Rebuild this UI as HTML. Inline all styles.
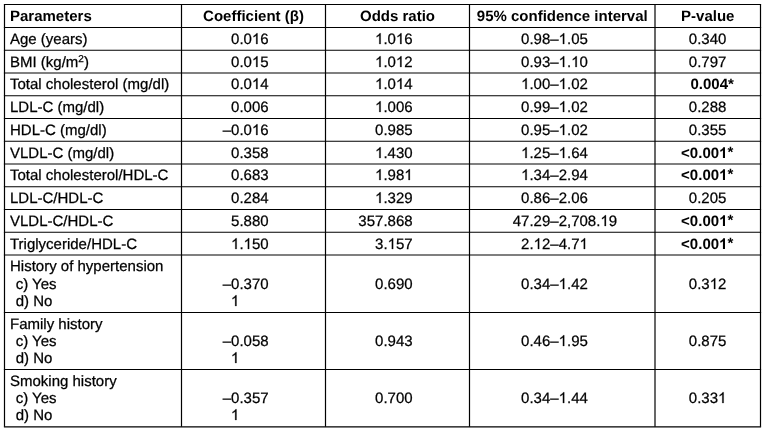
<!DOCTYPE html><html><head><meta charset="utf-8"><style>html,body{margin:0;padding:0;background:#fff;width:764px;height:429px;overflow:hidden}svg{display:block;will-change:transform}text{font-family:"Liberation Sans",sans-serif;font-size:15px;fill:#000;stroke:#000;stroke-width:0.25px;text-rendering:geometricPrecision}.b{font-weight:bold;stroke-width:0}.h{fill:transparent;stroke:transparent}</style></head><body>
<svg width="764" height="429" viewBox="0 0 764 429">
<rect width="764" height="429" fill="#fff"/>
<line x1="3.9" x2="761.1" y1="4.5" y2="4.5" stroke="#000" stroke-width="1.2"/>
<line x1="3.9" x2="761.1" y1="27.5" y2="27.5" stroke="#000" stroke-width="1.2"/>
<line x1="3.9" x2="761.1" y1="50.25" y2="50.25" stroke="#000" stroke-width="1.2"/>
<line x1="3.9" x2="761.1" y1="73" y2="73" stroke="#000" stroke-width="1.2"/>
<line x1="3.9" x2="761.1" y1="95.75" y2="95.75" stroke="#000" stroke-width="1.2"/>
<line x1="3.9" x2="761.1" y1="118.5" y2="118.5" stroke="#000" stroke-width="1.2"/>
<line x1="3.9" x2="761.1" y1="141.25" y2="141.25" stroke="#000" stroke-width="1.2"/>
<line x1="3.9" x2="761.1" y1="164" y2="164" stroke="#000" stroke-width="1.2"/>
<line x1="3.9" x2="761.1" y1="186.75" y2="186.75" stroke="#000" stroke-width="1.2"/>
<line x1="3.9" x2="761.1" y1="209.5" y2="209.5" stroke="#000" stroke-width="1.2"/>
<line x1="3.9" x2="761.1" y1="232.25" y2="232.25" stroke="#000" stroke-width="1.2"/>
<line x1="3.9" x2="761.1" y1="255" y2="255" stroke="#000" stroke-width="1.2"/>
<line x1="3.9" x2="761.1" y1="312.5" y2="312.5" stroke="#000" stroke-width="1.2"/>
<line x1="3.9" x2="761.1" y1="369.5" y2="369.5" stroke="#000" stroke-width="1.2"/>
<line x1="3.9" x2="761.1" y1="426.85" y2="426.85" stroke="#000" stroke-width="1.2"/>
<line x1="4.5" x2="4.5" y1="4.5" y2="426.85" stroke="#000" stroke-width="1.2"/>
<line x1="181.5" x2="181.5" y1="4.5" y2="426.85" stroke="#000" stroke-width="1.2"/>
<line x1="325.5" x2="325.5" y1="4.5" y2="426.85" stroke="#000" stroke-width="1.2"/>
<line x1="469.5" x2="469.5" y1="4.5" y2="426.85" stroke="#000" stroke-width="1.2"/>
<line x1="655" x2="655" y1="4.5" y2="426.85" stroke="#000" stroke-width="1.2"/>
<line x1="760.5" x2="760.5" y1="4.5" y2="426.85" stroke="#000" stroke-width="1.2"/>
<text x="10.00" y="21" class="b">Parameters</text>
<text x="253.50" y="21" text-anchor="middle" class="b">Coefficient (β)</text>
<text x="397.50" y="21" text-anchor="middle" class="b">Odds ratio</text>
<text x="562.25" y="21" text-anchor="middle" class="b">95% confidence interval</text>
<text x="707.75" y="21" text-anchor="middle" class="b">P-value</text>
<text x="10.00" y="44">Age (years)</text>
<text x="268.60" y="44" text-anchor="end">0.0<tspan class="h">1</tspan>6</text>
<text x="412.60" y="44" text-anchor="end"><tspan class="h">1</tspan>.0<tspan class="h">1</tspan>6</text>
<text x="550.30" y="44" text-anchor="end">0.98</text>
<text x="550.30" y="44">–<tspan class="h">1</tspan>.05</text>
<text x="707.60" y="44" text-anchor="middle">0.340</text>
<text x="10.00" y="67">BMI (kg/m<tspan baseline-shift='super' font-size='10'>2</tspan>)</text>
<text x="268.60" y="67" text-anchor="end">0.0<tspan class="h">1</tspan>5</text>
<text x="412.60" y="67" text-anchor="end"><tspan class="h">1</tspan>.0<tspan class="h">1</tspan>2</text>
<text x="550.30" y="67" text-anchor="end">0.93</text>
<text x="550.30" y="67">–<tspan class="h">1</tspan>.<tspan class="h">1</tspan>0</text>
<text x="707.60" y="67" text-anchor="middle">0.797</text>
<text x="10.00" y="89">Total cholesterol (mg/dl)</text>
<text x="268.60" y="89" text-anchor="end">0.0<tspan class="h">1</tspan>4</text>
<text x="412.60" y="89" text-anchor="end"><tspan class="h">1</tspan>.0<tspan class="h">1</tspan>4</text>
<text x="550.30" y="89" text-anchor="end"><tspan class="h">1</tspan>.00</text>
<text x="550.30" y="89">–<tspan class="h">1</tspan>.02</text>
<text x="712.20" y="89" text-anchor="middle" class="b">0.004*</text>
<text x="10.00" y="112">LDL-C (mg/dl)</text>
<text x="268.60" y="112" text-anchor="end">0.006</text>
<text x="412.60" y="112" text-anchor="end"><tspan class="h">1</tspan>.006</text>
<text x="550.30" y="112" text-anchor="end">0.99</text>
<text x="550.30" y="112">–<tspan class="h">1</tspan>.02</text>
<text x="707.60" y="112" text-anchor="middle">0.288</text>
<text x="10.00" y="135">HDL-C (mg/dl)</text>
<text x="268.60" y="135" text-anchor="end">–0.0<tspan class="h">1</tspan>6</text>
<text x="412.60" y="135" text-anchor="end">0.985</text>
<text x="550.30" y="135" text-anchor="end">0.95</text>
<text x="550.30" y="135">–<tspan class="h">1</tspan>.02</text>
<text x="707.60" y="135" text-anchor="middle">0.355</text>
<text x="10.00" y="158">VLDL-C (mg/dl)</text>
<text x="268.60" y="158" text-anchor="end">0.358</text>
<text x="412.60" y="158" text-anchor="end"><tspan class="h">1</tspan>.430</text>
<text x="550.30" y="158" text-anchor="end"><tspan class="h">1</tspan>.25</text>
<text x="550.30" y="158">–<tspan class="h">1</tspan>.64</text>
<text x="707.20" y="158" text-anchor="middle" class="b">&lt;0.00<tspan class="h">1</tspan><tspan dy="-1">*</tspan></text>
<text x="10.00" y="180">Total cholesterol/HDL-C</text>
<text x="268.60" y="180" text-anchor="end">0.683</text>
<text x="412.60" y="180" text-anchor="end"><tspan class="h">1</tspan>.98<tspan class="h">1</tspan></text>
<text x="550.30" y="180" text-anchor="end"><tspan class="h">1</tspan>.34</text>
<text x="550.30" y="180">–2.94</text>
<text x="707.20" y="180" text-anchor="middle" class="b">&lt;0.00<tspan class="h">1</tspan><tspan dy="-1">*</tspan></text>
<text x="10.00" y="203">LDL-C/HDL-C</text>
<text x="268.60" y="203" text-anchor="end">0.284</text>
<text x="412.60" y="203" text-anchor="end"><tspan class="h">1</tspan>.329</text>
<text x="550.30" y="203" text-anchor="end">0.86</text>
<text x="550.30" y="203">–2.06</text>
<text x="707.60" y="203" text-anchor="middle">0.205</text>
<text x="10.00" y="226">VLDL-C/HDL-C</text>
<text x="268.60" y="226" text-anchor="end">5.880</text>
<text x="412.60" y="226" text-anchor="end">357.868</text>
<text x="550.30" y="226" text-anchor="end">47.29</text>
<text x="550.30" y="226">–2,708.<tspan class="h">1</tspan>9</text>
<text x="707.20" y="226" text-anchor="middle" class="b">&lt;0.00<tspan class="h">1</tspan><tspan dy="-1">*</tspan></text>
<text x="10.00" y="249">Triglyceride/HDL-C</text>
<text x="268.60" y="249" text-anchor="end"><tspan class="h">1</tspan>.<tspan class="h">1</tspan>50</text>
<text x="412.60" y="249" text-anchor="end">3.<tspan class="h">1</tspan>57</text>
<text x="550.30" y="249" text-anchor="end">2.<tspan class="h">1</tspan>2</text>
<text x="550.30" y="249">–4.7<tspan class="h">1</tspan></text>
<text x="707.20" y="249" text-anchor="middle" class="b">&lt;0.00<tspan class="h">1</tspan><tspan dy="-1">*</tspan></text>
<text x="10.00" y="271">History of hypertension</text>
<text x="15.70" y="289">c) Yes</text>
<text x="15.70" y="306">d) No</text>
<text x="268.60" y="289" text-anchor="end">–0.370</text>
<text x="230.90" y="306"><tspan class="h">1</tspan></text>
<text x="412.60" y="289" text-anchor="end">0.690</text>
<text x="550.30" y="289" text-anchor="end">0.34</text>
<text x="550.30" y="289">–<tspan class="h">1</tspan>.42</text>
<text x="707.60" y="289" text-anchor="middle">0.3<tspan class="h">1</tspan>2</text>
<text x="10.00" y="329">Family history</text>
<text x="15.70" y="346">c) Yes</text>
<text x="15.70" y="363">d) No</text>
<text x="268.60" y="346" text-anchor="end">–0.058</text>
<text x="230.90" y="363"><tspan class="h">1</tspan></text>
<text x="412.60" y="346" text-anchor="end">0.943</text>
<text x="550.30" y="346" text-anchor="end">0.46</text>
<text x="550.30" y="346">–<tspan class="h">1</tspan>.95</text>
<text x="707.60" y="346" text-anchor="middle">0.875</text>
<text x="10.00" y="386">Smoking history</text>
<text x="15.70" y="403">c) Yes</text>
<text x="15.70" y="420">d) No</text>
<text x="268.60" y="403" text-anchor="end">–0.357</text>
<text x="230.90" y="420"><tspan class="h">1</tspan></text>
<text x="412.60" y="403" text-anchor="end">0.700</text>
<text x="550.30" y="403" text-anchor="end">0.34</text>
<text x="550.30" y="403">–<tspan class="h">1</tspan>.44</text>
<text x="707.60" y="403" text-anchor="middle">0.33<tspan class="h">1</tspan></text>
<path d="M763 0H583V1147Q480 1050 223 930V1104Q520 1250 647 1472H763Z" transform="translate(251.91,44.00) scale(0.007324,-0.007324)" stroke="#000" stroke-width="34.1"/>
<path d="M763 0H583V1147Q480 1050 223 930V1104Q520 1250 647 1472H763Z" transform="translate(375.05,44.00) scale(0.007324,-0.007324)" stroke="#000" stroke-width="34.1"/>
<path d="M763 0H583V1147Q480 1050 223 930V1104Q520 1250 647 1472H763Z" transform="translate(395.91,44.00) scale(0.007324,-0.007324)" stroke="#000" stroke-width="34.1"/>
<path d="M763 0H583V1147Q480 1050 223 930V1104Q520 1250 647 1472H763Z" transform="translate(558.64,44.00) scale(0.007324,-0.007324)" stroke="#000" stroke-width="34.1"/>
<path d="M763 0H583V1147Q480 1050 223 930V1104Q520 1250 647 1472H763Z" transform="translate(251.91,67.00) scale(0.007324,-0.007324)" stroke="#000" stroke-width="34.1"/>
<path d="M763 0H583V1147Q480 1050 223 930V1104Q520 1250 647 1472H763Z" transform="translate(375.05,67.00) scale(0.007324,-0.007324)" stroke="#000" stroke-width="34.1"/>
<path d="M763 0H583V1147Q480 1050 223 930V1104Q520 1250 647 1472H763Z" transform="translate(395.91,67.00) scale(0.007324,-0.007324)" stroke="#000" stroke-width="34.1"/>
<path d="M763 0H583V1147Q480 1050 223 930V1104Q520 1250 647 1472H763Z" transform="translate(558.64,67.00) scale(0.007324,-0.007324)" stroke="#000" stroke-width="34.1"/>
<path d="M763 0H583V1147Q480 1050 223 930V1104Q520 1250 647 1472H763Z" transform="translate(571.16,67.00) scale(0.007324,-0.007324)" stroke="#000" stroke-width="34.1"/>
<path d="M763 0H583V1147Q480 1050 223 930V1104Q520 1250 647 1472H763Z" transform="translate(251.91,89.00) scale(0.007324,-0.007324)" stroke="#000" stroke-width="34.1"/>
<path d="M763 0H583V1147Q480 1050 223 930V1104Q520 1250 647 1472H763Z" transform="translate(375.05,89.00) scale(0.007324,-0.007324)" stroke="#000" stroke-width="34.1"/>
<path d="M763 0H583V1147Q480 1050 223 930V1104Q520 1250 647 1472H763Z" transform="translate(395.91,89.00) scale(0.007324,-0.007324)" stroke="#000" stroke-width="34.1"/>
<path d="M763 0H583V1147Q480 1050 223 930V1104Q520 1250 647 1472H763Z" transform="translate(521.10,89.00) scale(0.007324,-0.007324)" stroke="#000" stroke-width="34.1"/>
<path d="M763 0H583V1147Q480 1050 223 930V1104Q520 1250 647 1472H763Z" transform="translate(558.64,89.00) scale(0.007324,-0.007324)" stroke="#000" stroke-width="34.1"/>
<path d="M763 0H583V1147Q480 1050 223 930V1104Q520 1250 647 1472H763Z" transform="translate(375.05,112.00) scale(0.007324,-0.007324)" stroke="#000" stroke-width="34.1"/>
<path d="M763 0H583V1147Q480 1050 223 930V1104Q520 1250 647 1472H763Z" transform="translate(558.64,112.00) scale(0.007324,-0.007324)" stroke="#000" stroke-width="34.1"/>
<path d="M763 0H583V1147Q480 1050 223 930V1104Q520 1250 647 1472H763Z" transform="translate(251.91,135.00) scale(0.007324,-0.007324)" stroke="#000" stroke-width="34.1"/>
<path d="M763 0H583V1147Q480 1050 223 930V1104Q520 1250 647 1472H763Z" transform="translate(558.64,135.00) scale(0.007324,-0.007324)" stroke="#000" stroke-width="34.1"/>
<path d="M763 0H583V1147Q480 1050 223 930V1104Q520 1250 647 1472H763Z" transform="translate(375.05,158.00) scale(0.007324,-0.007324)" stroke="#000" stroke-width="34.1"/>
<path d="M763 0H583V1147Q480 1050 223 930V1104Q520 1250 647 1472H763Z" transform="translate(521.10,158.00) scale(0.007324,-0.007324)" stroke="#000" stroke-width="34.1"/>
<path d="M763 0H583V1147Q480 1050 223 930V1104Q520 1250 647 1472H763Z" transform="translate(558.64,158.00) scale(0.007324,-0.007324)" stroke="#000" stroke-width="34.1"/>
<path d="M806 0H525V1059Q371 915 162 846V1101Q472 1203 578 1472H806Z" transform="translate(719.09,158.00) scale(0.007324,-0.007324)"/>
<path d="M763 0H583V1147Q480 1050 223 930V1104Q520 1250 647 1472H763Z" transform="translate(375.05,180.00) scale(0.007324,-0.007324)" stroke="#000" stroke-width="34.1"/>
<path d="M763 0H583V1147Q480 1050 223 930V1104Q520 1250 647 1472H763Z" transform="translate(404.26,180.00) scale(0.007324,-0.007324)" stroke="#000" stroke-width="34.1"/>
<path d="M763 0H583V1147Q480 1050 223 930V1104Q520 1250 647 1472H763Z" transform="translate(521.10,180.00) scale(0.007324,-0.007324)" stroke="#000" stroke-width="34.1"/>
<path d="M806 0H525V1059Q371 915 162 846V1101Q472 1203 578 1472H806Z" transform="translate(719.09,180.00) scale(0.007324,-0.007324)"/>
<path d="M763 0H583V1147Q480 1050 223 930V1104Q520 1250 647 1472H763Z" transform="translate(375.05,203.00) scale(0.007324,-0.007324)" stroke="#000" stroke-width="34.1"/>
<path d="M763 0H583V1147Q480 1050 223 930V1104Q520 1250 647 1472H763Z" transform="translate(600.35,226.00) scale(0.007324,-0.007324)" stroke="#000" stroke-width="34.1"/>
<path d="M806 0H525V1059Q371 915 162 846V1101Q472 1203 578 1472H806Z" transform="translate(719.09,226.00) scale(0.007324,-0.007324)"/>
<path d="M763 0H583V1147Q480 1050 223 930V1104Q520 1250 647 1472H763Z" transform="translate(231.05,249.00) scale(0.007324,-0.007324)" stroke="#000" stroke-width="34.1"/>
<path d="M763 0H583V1147Q480 1050 223 930V1104Q520 1250 647 1472H763Z" transform="translate(243.57,249.00) scale(0.007324,-0.007324)" stroke="#000" stroke-width="34.1"/>
<path d="M763 0H583V1147Q480 1050 223 930V1104Q520 1250 647 1472H763Z" transform="translate(387.57,249.00) scale(0.007324,-0.007324)" stroke="#000" stroke-width="34.1"/>
<path d="M763 0H583V1147Q480 1050 223 930V1104Q520 1250 647 1472H763Z" transform="translate(533.61,249.00) scale(0.007324,-0.007324)" stroke="#000" stroke-width="34.1"/>
<path d="M763 0H583V1147Q480 1050 223 930V1104Q520 1250 647 1472H763Z" transform="translate(579.50,249.00) scale(0.007324,-0.007324)" stroke="#000" stroke-width="34.1"/>
<path d="M806 0H525V1059Q371 915 162 846V1101Q472 1203 578 1472H806Z" transform="translate(719.09,249.00) scale(0.007324,-0.007324)"/>
<path d="M763 0H583V1147Q480 1050 223 930V1104Q520 1250 647 1472H763Z" transform="translate(230.90,306.00) scale(0.007324,-0.007324)" stroke="#000" stroke-width="34.1"/>
<path d="M763 0H583V1147Q480 1050 223 930V1104Q520 1250 647 1472H763Z" transform="translate(558.64,289.00) scale(0.007324,-0.007324)" stroke="#000" stroke-width="34.1"/>
<path d="M763 0H583V1147Q480 1050 223 930V1104Q520 1250 647 1472H763Z" transform="translate(709.69,289.00) scale(0.007324,-0.007324)" stroke="#000" stroke-width="34.1"/>
<path d="M763 0H583V1147Q480 1050 223 930V1104Q520 1250 647 1472H763Z" transform="translate(230.90,363.00) scale(0.007324,-0.007324)" stroke="#000" stroke-width="34.1"/>
<path d="M763 0H583V1147Q480 1050 223 930V1104Q520 1250 647 1472H763Z" transform="translate(558.64,346.00) scale(0.007324,-0.007324)" stroke="#000" stroke-width="34.1"/>
<path d="M763 0H583V1147Q480 1050 223 930V1104Q520 1250 647 1472H763Z" transform="translate(230.90,420.00) scale(0.007324,-0.007324)" stroke="#000" stroke-width="34.1"/>
<path d="M763 0H583V1147Q480 1050 223 930V1104Q520 1250 647 1472H763Z" transform="translate(558.64,403.00) scale(0.007324,-0.007324)" stroke="#000" stroke-width="34.1"/>
<path d="M763 0H583V1147Q480 1050 223 930V1104Q520 1250 647 1472H763Z" transform="translate(718.03,403.00) scale(0.007324,-0.007324)" stroke="#000" stroke-width="34.1"/>
</svg></body></html>
